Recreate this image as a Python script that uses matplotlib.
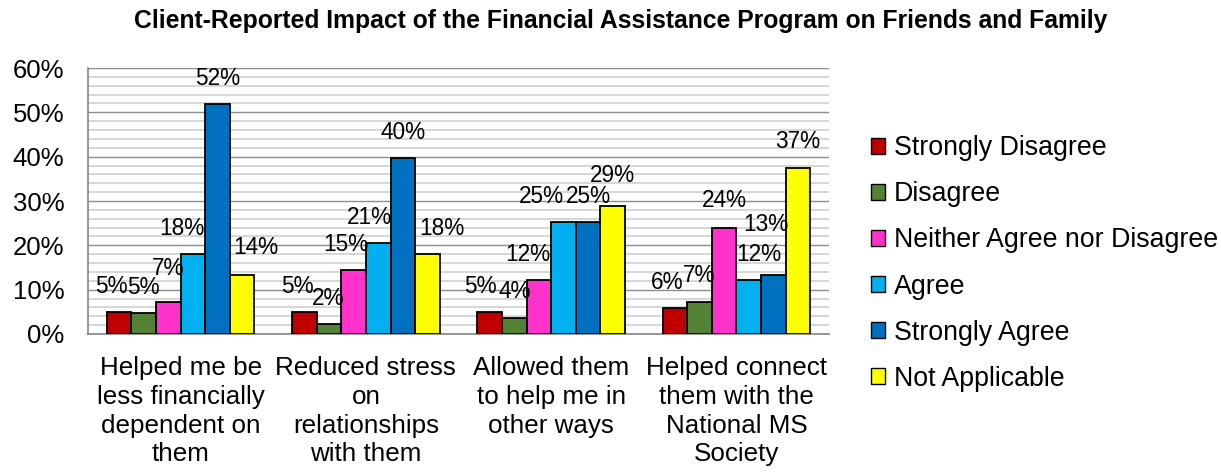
import numpy as np
import matplotlib
matplotlib.use('Agg')
import matplotlib.pyplot as plt
from matplotlib.ticker import MultipleLocator, PercentFormatter

plt.rcParams['font.family'] = ['Liberation Sans', 'DejaVu Sans']

categories = ["Helped me be\nless financially\ndependent on\nthem",
              "Reduced stress\non\nrelationships\nwith them",
              "Allowed them\nto help me in\nother ways",
              "Helped connect\nthem with the\nNational MS\nSociety"]

series = ["Strongly Disagree", "Disagree", "Neither Agree nor Disagree",
          "Agree", "Strongly Agree", "Not Applicable"]

strongly_disagree = [0.050, 0.050, 0.050, 0.059]
disagree = [0.047, 0.023, 0.035, 0.072]
neither = [0.072, 0.145, 0.121, 0.240]
agree = [0.180, 0.205, 0.252, 0.121]
strongly_agree = [0.518, 0.398, 0.252, 0.133]
not_applicable = [0.134, 0.181, 0.289, 0.374]

labels_sd = ["5%", "5%", "5%", "6%"]
labels_d = ["5%", "2%", "4%", "7%"]
labels_n = ["7%", "15%", "12%", "24%"]
labels_a = ["18%", "21%", "25%", "12%"]
labels_sa = ["52%", "40%", "25%", "13%"]
labels_na = ["14%", "18%", "29%", "37%"]

values = [strongly_disagree, disagree, neither, agree, strongly_agree, not_applicable]
labels = [labels_sd, labels_d, labels_n, labels_a, labels_sa, labels_na]
colors = ["#C00000", "#548235", "#FF33CC", "#00B0F0", "#0070C0", "#FFFF00"]

# hand-placed label nudges (px), [series][category] -> (dx, dy)
nudge = [[(-8, 0), (-7, 0), (-9, 0), (-8, 0)],
         [(0, 0), (-1, 0), (0, 1), (0, 1)],
         [(0, 8), (-8, 0), (-11, 0), (0, 2)],
         [(-11, 0), (-9, 0), (-22, 0), (10, 0)],
         [(0, 0), (0, 0), (0, 0), (-7, 25)],
         [(14, 2), (14, 0), (0, 5), (0, 1)]]

fig = plt.figure(figsize=(12.21, 4.73), dpi=100)
ax = fig.add_axes([0.0721, 0.2939, 0.6069, 0.5623])

x = np.arange(len(categories))
w = 0.1328
px = 72.0 / fig.dpi
for i in range(len(series)):
    pos = x + (i - 2.5) * w
    ax.bar(pos, values[i], w, color=colors[i], edgecolor='black',
           linewidth=1.3, label=series[i], zorder=3)
    for j in range(len(categories)):
        dx, dy = nudge[i][j]
        ax.annotate(labels[i][j], (pos[j], values[i][j]),
                    xytext=(dx * px, (19 + dy) * px), textcoords='offset points',
                    ha='center', va='baseline', fontsize=16.3, zorder=4)

ax.set_xlim(-0.5, len(categories) - 0.5)
ax.set_ylim(0, 0.6)
ax.yaxis.set_major_locator(MultipleLocator(0.1))
ax.yaxis.set_minor_locator(MultipleLocator(0.02))
ax.yaxis.set_major_formatter(PercentFormatter(1.0, decimals=0))
ax.grid(True, axis='y', which='major', color='#8c8c8c', linewidth=1.0, zorder=0)
ax.grid(True, axis='y', which='minor', color='#d0d0d0', linewidth=1.2, zorder=0)
ax.set_axisbelow(True)

ax.set_xticks(x)
ax.set_xticklabels(categories, fontsize=18.7, linespacing=1.25)
ax.tick_params(axis='x', length=0, pad=16)
ax.tick_params(axis='y', which='both', length=0, pad=17, labelsize=18.5)

for s in ['top', 'right']:
    ax.spines[s].set_visible(False)
for s in ['left', 'bottom']:
    ax.spines[s].set_color('#868686')
    ax.spines[s].set_linewidth(1.2)

fig.text(0.508, 1 - 28 / 473., "Client-Reported Impact of the Financial Assistance Program on Friends and Family",
         ha='center', va='baseline', fontsize=17.85, fontweight='bold')

lgd = fig.legend(loc='center left', bbox_to_anchor=(871 / 1221., 1 - 263.5 / 473.),
                 frameon=False, fontsize=19.3, handlelength=0.54, handleheight=0.54,
                 handletextpad=0.3, labelspacing=0.75, borderpad=0, borderaxespad=0)
for h in lgd.legend_handles:
    h.set_linewidth(1.0)

plt.savefig('out.png', dpi=100)
